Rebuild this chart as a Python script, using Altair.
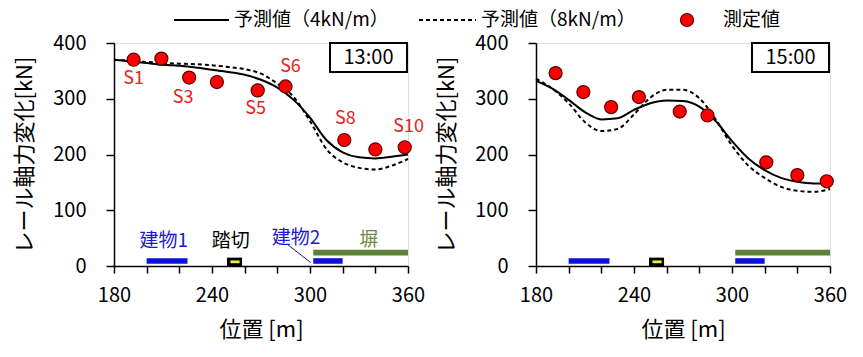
import altair as alt
import pandas as pd

# ---------------- data ----------------
pos = [192, 209, 226, 243, 268, 285, 321, 340, 358]
sensor = ["S1", "S2", "S3", "S4", "S5", "S6", "S8", "S9", "S10"]
meas_13 = [370, 372, 338, 330, 315, 322, 226, 209, 213]
meas_15 = [346, 312, 285, 303, 277, 270, 186, 163, 152]

curve_x = [180, 190, 200, 210, 220, 230, 240, 250, 260, 270, 280, 290, 300, 310, 320, 330, 340, 350, 360]
pred4_13 = [370, 367, 364, 361, 359, 356, 352, 348, 343, 334, 320, 298, 266, 226, 204, 195, 193, 196, 200]
pred8_13 = [370, 368, 366, 364, 363, 362, 360, 357, 353, 345, 327, 303, 260, 210, 186, 176, 173, 180, 192]
pred4_15 = [332, 318, 298, 276, 263, 265, 280, 292, 297, 296, 286, 260, 224, 193, 172, 158, 151, 148, 148]
pred8_15 = [336, 318, 292, 258, 242, 246, 272, 302, 316, 316, 301, 263, 216, 180, 158, 142, 135, 133, 138]

# structures along the track: start, end, bottom, top, color
struct_name = ["建物1", "建物2", "塀"]
struct_x1 = [200, 302, 302]
struct_x2 = [225, 320, 360]
struct_y1 = [4, 4, 19]
struct_y2 = [14, 14, 29]
struct_color = ["#0a10e0", "#0a10e0", "#5b8237"]

crossing_x = [249.2, 258.4]
crossing_inner_x = [251.3, 256.9]

labelled = ["S1", "S3", "S5", "S6", "S8", "S10"]
label_dx = [0, -6, -2, 5, 1, 4]
label_dy = [19, 20, 19, -19, -21, -20]

ann_text = ["建物1", "踏切", "建物2", "塀"]
ann_x = [210.5, 251.5, 291.5, 336]
ann_y = [45, 45, 51, 47]
ann_color = ["#1a1ad0", "#000000", "#1a1ad0", "#6a8a40"]

FONT = "Noto Sans CJK JP"
W, H = 294, 223

xs = alt.Scale(domain=[180, 360], nice=False, zero=False)
ys = alt.Scale(domain=[0, 400], nice=False)
xaxis = alt.Axis(values=list(range(180, 361, 20)),
                 labelExpr="datum.value % 60 == 0 ? datum.label : ''",
                 grid=False, tickSize=7, labelPadding=12, titlePadding=14,
                 domainColor="black", tickColor="black", domainWidth=1.5, tickWidth=1.5,
                 labelFontSize=20, titleFontSize=22, labelColor="black", titleColor="black",
                 titleFontWeight="normal", labelFont=FONT, titleFont=FONT, labelFlush=False)
yaxis = alt.Axis(values=[0, 100, 200, 300, 400], grid=False, tickSize=8, labelPadding=20,
                 titlePadding=16, domainColor="black", tickColor="black", domainWidth=1.5,
                 tickWidth=1.5, labelFontSize=20, titleFontSize=22, labelColor="black",
                 titleColor="black", titleFontWeight="normal", labelFont=FONT, titleFont=FONT)

X = alt.X("x:Q", scale=xs, axis=xaxis, title="位置 [m]")
Y = alt.Y("y:Q", scale=ys, axis=yaxis, title="レール軸力変化[kN]")


def panel(meas, p4, p8, time_label, annotate, legend):
    meas_df = pd.DataFrame({"x": pos, "y": meas, "s": sensor})
    c4 = pd.DataFrame({"x": curve_x, "y": p4})
    c8 = pd.DataFrame({"x": curve_x, "y": p8})
    st = pd.DataFrame({"x": struct_x1, "x2": struct_x2, "y": struct_y1, "y2": struct_y2,
                       "c": struct_color, "n": struct_name})
    cr = pd.DataFrame({"x": [crossing_x[0]], "x2": [crossing_x[1]], "y": [0], "y2": [15]})
    cri = pd.DataFrame({"x": [crossing_inner_x[0]], "x2": [crossing_inner_x[1]], "y": [5], "y2": [10]})

    layers = [
        alt.Chart(c4).mark_line(color="black", strokeWidth=2, interpolate="monotone").encode(x=X, y=Y),
        alt.Chart(c8).mark_line(color="black", strokeWidth=2, strokeDash=[4, 3],
                                interpolate="monotone").encode(x=X, y=Y),
        alt.Chart(st).mark_rect().encode(x=X, x2="x2", y=Y, y2="y2",
                                         color=alt.Color("c:N", scale=None)),
        alt.Chart(cr).mark_rect(color="black").encode(x=X, x2="x2", y=Y, y2="y2"),
        alt.Chart(cri).mark_rect(color="#f2ee3a").encode(x=X, x2="x2", y=Y, y2="y2"),
        alt.Chart(meas_df).mark_point(filled=True, fill="#ff0000", stroke="#5a0000",
                                      strokeWidth=1.2, size=170, opacity=1).encode(x=X, y=Y),
    ]
    if annotate:
        for s, dx, dy in zip(labelled, label_dx, label_dy):
            i = sensor.index(s)
            d = pd.DataFrame({"x": [pos[i]], "y": [meas[i]], "t": [s]})
            layers.append(alt.Chart(d).mark_text(color="#e8231e", fontSize=18, font=FONT,
                                                 dx=dx, dy=dy).encode(x=X, y=Y, text="t:N"))
        ann = pd.DataFrame({"x": ann_x, "y": ann_y, "t": ann_text, "c": ann_color})
        layers.append(alt.Chart(ann).mark_text(fontSize=19, font=FONT).encode(
            x=X, y=Y, text="t:N", color=alt.Color("c:N", scale=None)))
        lead = pd.DataFrame({"x": [286.5], "y": [38], "x2": [300.5], "y2": [6]})
        layers.append(alt.Chart(lead).mark_rule(color="#1a1a90", strokeWidth=1).encode(
            x=X, y=Y, x2="x2", y2="y2"))
    one = pd.DataFrame({"t": [time_label]})
    layers.append(alt.Chart(one).mark_rect(fill="white", stroke="black", strokeWidth=2).encode(
        x=alt.value(216), x2=alt.value(293), y=alt.value(0), y2=alt.value(29)))
    layers.append(alt.Chart(one).mark_text(fontSize=20, font=FONT, color="black").encode(
        x=alt.value(254.5), y=alt.value(15), text="t:N"))
    if legend:
        lg = pd.DataFrame({"a": [0]})
        ly = -23
        layers += [
            alt.Chart(lg).mark_rule(color="black", strokeWidth=2).encode(
                x=alt.value(60), x2=alt.value(115), y=alt.value(ly)),
            alt.Chart(lg).mark_text(align="left", fontSize=19, font=FONT, color="black").encode(
                x=alt.value(120), y=alt.value(ly), text=alt.value("予測値（4kN/m）")),
            alt.Chart(lg).mark_rule(color="black", strokeWidth=2, strokeDash=[4, 3]).encode(
                x=alt.value(305), x2=alt.value(362), y=alt.value(ly)),
            alt.Chart(lg).mark_text(align="left", fontSize=19, font=FONT, color="black").encode(
                x=alt.value(367), y=alt.value(ly), text=alt.value("予測値（8kN/m）")),
            alt.Chart(lg).mark_point(filled=True, fill="#ff0000", stroke="#5a0000", strokeWidth=1.2,
                                     size=170, opacity=1).encode(x=alt.value(573), y=alt.value(ly)),
            alt.Chart(lg).mark_text(align="left", fontSize=19, font=FONT, color="black").encode(
                x=alt.value(609), y=alt.value(ly), text=alt.value("測定値")),
        ]
    return alt.layer(*layers).properties(width=W, height=H)


left = panel(meas_13, pred4_13, pred8_13, "13:00", True, True)
right = panel(meas_15, pred4_15, pred8_15, "15:00", False, False)

chart = alt.hconcat(left, right, spacing=128, bounds="flush").properties(
    padding={"left": 5, "top": 2, "right": 5, "bottom": 5}
).configure_view(stroke="black", strokeWidth=1.5).configure(font=FONT)

chart.save("out.html", embed_options={"renderer": "svg", "actions": False})
